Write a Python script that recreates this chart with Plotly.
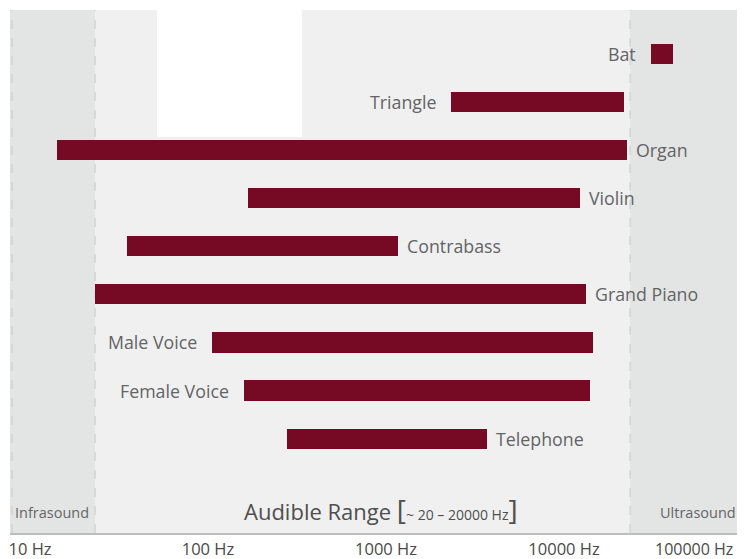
import math
import plotly.graph_objects as go

# ---- data ----
categories = ["Telephone", "Female Voice", "Male Voice", "Grand Piano", "Contrabass",
              "Violin", "Organ", "Triangle", "Bat"]
low_hz = [278, 159, 105, 23.2, 35, 168, 14.2, 2320, 30800]
high_hz = [3700, 14000, 14550, 13300, 1170, 12300, 22600, 21700, 41000]
label_side = ["right", "left", "left", "right", "right", "right", "right", "left", "left"]

tick_values = [10, 100, 1000, 10000]
tick_labels = ["10 Hz", "100 Hz", "1000 Hz", "10000 Hz"]
last_tick_label = "100000 Hz"

infrasound_limit = 23.2
ultrasound_limit = 23500

# ---- style ----
BAR = "#760a24"
LABEL = "#636466"
FONT = "Open Sans"

fig = go.Figure()
fig.add_trace(go.Bar(
    y=categories,
    base=low_hz,
    x=[h - l for h, l in zip(high_hz, low_hz)],
    orientation="h",
    width=0.42,
    marker=dict(color=BAR, line=dict(width=0)),
    hoverinfo="skip",
))

# region backgrounds
shapes = [
    dict(type="rect", xref="x", yref="paper", x0=1, x1=infrasound_limit, y0=0, y1=1,
         fillcolor="#e3e4e4", line=dict(width=0), layer="below"),
    dict(type="rect", xref="x", yref="paper", x0=infrasound_limit, x1=ultrasound_limit, y0=0, y1=1,
         fillcolor="#f0f0f0", line=dict(width=0), layer="below"),
    dict(type="rect", xref="x", yref="paper", x0=ultrasound_limit, x1=1e7, y0=0, y1=1,
         fillcolor="#e3e4e4", line=dict(width=0), layer="below"),
    # white block at the top of the picture
    dict(type="rect", xref="x", yref="y", x0=51.7, x1=337, y0=6.27, y1=10,
         fillcolor="#ffffff", line=dict(width=0), layer="below"),
    # dashed boundaries
    dict(type="line", xref="paper", yref="paper", x0=0.0027, x1=0.0027, y0=0, y1=1,
         line=dict(color="#c9c9c9", width=1, dash="dash"), layer="below"),
    dict(type="line", xref="x", yref="paper", x0=infrasound_limit, x1=infrasound_limit, y0=0, y1=1,
         line=dict(color="#c9c9c9", width=1, dash="dash"), layer="below"),
    dict(type="line", xref="x", yref="paper", x0=ultrasound_limit, x1=ultrasound_limit, y0=0, y1=1,
         line=dict(color="#c9c9c9", width=1, dash="dash"), layer="below"),
]

label_font = dict(family=FONT, size=17.8, color=LABEL, weight=500)
annotations = []
for cat, lo, hi, side in zip(categories, low_hz, high_hz, label_side):
    if side == "right":
        annotations.append(dict(x=math.log10(hi), y=cat, xref="x", yref="y", text=cat,
                                xanchor="left", yanchor="middle", xshift=7, showarrow=False,
                                font=label_font))
    else:
        annotations.append(dict(x=math.log10(lo), y=cat, xref="x", yref="y", text=cat,
                                xanchor="right", yanchor="middle", xshift=-13, showarrow=False,
                                font=label_font))

annotations += [
    dict(x=0.0578, y=0.04, xref="paper", yref="paper", text="Infrasound", showarrow=False,
         xanchor="center", yanchor="middle", font=dict(family=FONT, size=14.5, color="#666666")),
    dict(x=0.936, y=0.04, xref="paper", yref="paper", text="Ultrasound", showarrow=False,
         xanchor="center", yanchor="middle", font=dict(family=FONT, size=14.5, color="#666666")),
    dict(x=0.505, y=0.045, xref="paper", yref="paper",
         text="Audible Range <span style='font-size:28px'>[</span>"
              "<span style='font-size:14px'>~ 20 – 20000 Hz</span>"
              "<span style='font-size:28px'>]</span>",
         showarrow=False, xanchor="center", yanchor="middle",
         font=dict(family=FONT, size=22, color="#4f4f4f")),
    dict(x=1, y=0, xref="paper", yref="paper", text=last_tick_label, showarrow=False,
         xanchor="right", yanchor="top", yshift=-3, xshift=-10,
         font=dict(family=FONT, size=16, color="#4a4a4a")),
]

# the page body adds an 8px offset, so the figure is sized to fit the 745x559 window
fig.update_layout(
    width=737, height=551,
    margin=dict(l=2, r=0, t=2, b=26),
    paper_bgcolor="#ffffff",
    plot_bgcolor="#ffffff",
    showlegend=False,
    shapes=shapes,
    annotations=annotations,
    bargap=0,
)
fig.update_xaxes(
    type="log",
    range=[0.8876, 5.0169],
    tickvals=tick_values, ticktext=tick_labels,
    showgrid=False, zeroline=False,
    showline=True, linecolor="#bdbdbd", linewidth=1.5,
    ticks="", tickfont=dict(family=FONT, size=16.5, color="#4a4a4a"),
)
fig.update_yaxes(
    type="category",
    categoryorder="array", categoryarray=categories,
    range=[-1.96, 8.91],
    showgrid=False, zeroline=False, showticklabels=False, ticks="",
)

fig.write_html("out.html")
